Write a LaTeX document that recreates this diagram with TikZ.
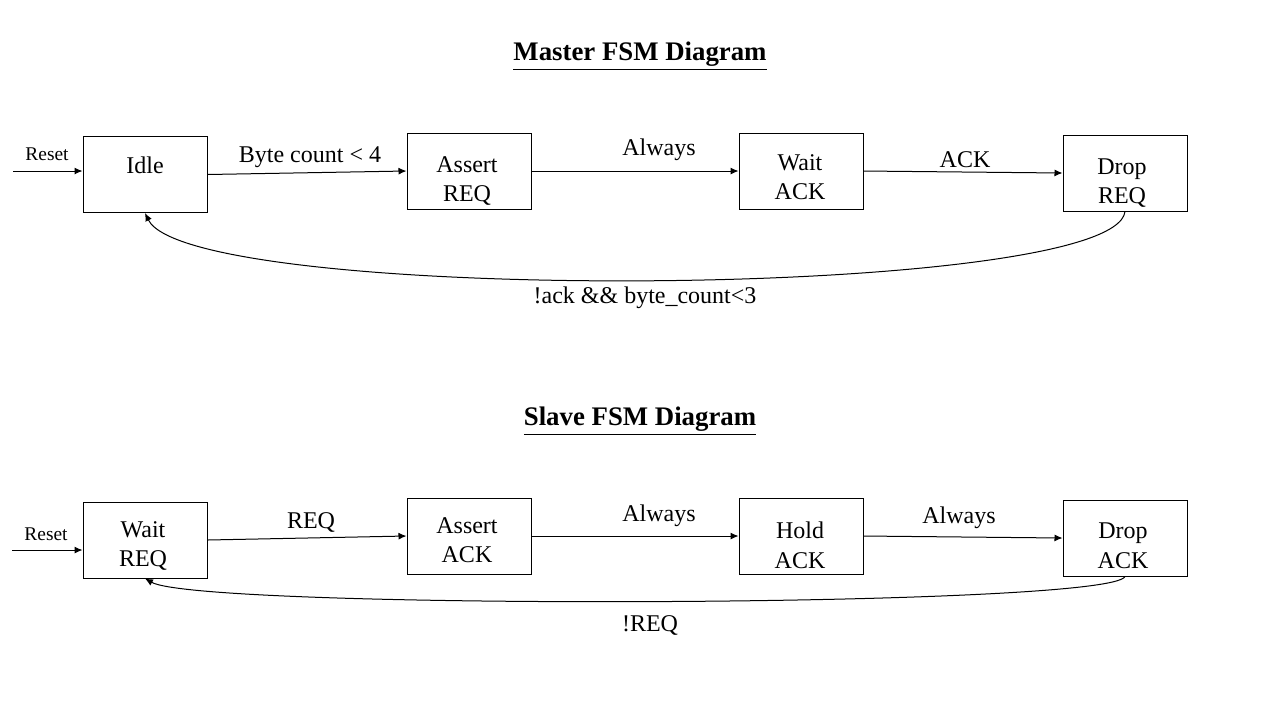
\documentclass[tikz,border=0pt]{standalone}
\usepackage{fontspec}
\setmainfont{Liberation Serif}
\usetikzlibrary{arrows.meta}
\begin{document}
\begin{tikzpicture}[x=0.5pt,y=-0.5pt,
  box/.style={draw, line width=0.5pt, minimum width=62pt, minimum height=38pt, inner sep=0pt},
  boxtext/.style={align=center, inner sep=0pt, font=\fontsize{12}{14.8}\selectfont},
  lbl/.style={inner sep=0pt, font=\fontsize{12}{14.5}\selectfont},
  rlbl/.style={inner sep=0pt, font=\fontsize{9.7}{11}\selectfont},
  ttl/.style={inner sep=0pt, font=\fontsize{13.4}{16}\selectfont\bfseries},
  arr/.style={draw, line width=0.5pt, -{Latex[length=4pt,width=3.5pt]}}
]
\useasboundingbox[fill=white] (0,0) rectangle (1280,720);

% ---------- Master ----------
\node[ttl] (t1) at (640,56) {\underline{Master FSM Diagram}};

\node[box] (idle) at (145,174.5) {};
\node[box] (areq) at (469,171) {};
\node[box] (wack) at (801,171) {};
\node[box] (dreq) at (1125,173) {};

\node[boxtext] (idlet) at (145,165) {Idle};
\node[boxtext] (areqt) at (467,181) {Assert\\REQ};
\node[boxtext] (wackt) at (800,177) {Wait\\ACK};
\node[boxtext] (dreqt) at (1122,183) {Drop\\REQ};

\coordinate (r1) at (13,171);
\draw[arr] (r1) -- (r1 -| idle.west);
\node[rlbl] (rl1) at (47,154) {Reset};

\draw[arr] (idle.east) -- (areq.west);
\draw[arr] (areq.east) -- (wack.west);
\draw[arr] (wack.east) -- (dreq.west);
\node[lbl] (l1) at (310,157) {Byte count < 4};
\node[lbl] (l2) at (659,150) {Always};
\node[lbl] (l3) at (965,160) {ACK};

\draw[arr] (dreq.south) .. controls (1115,300) and (190,305) .. (idle.south);
\node[lbl] (l4) at (645,298) {!ack \&\& byte\_count<3};

% ---------- Slave ----------
\node[ttl] (t2) at (640,421) {\underline{Slave FSM Diagram}};

\node[box] (wreq) at (145,540) {};
\node[box] (aack) at (469,536) {};
\node[box] (hack) at (801,536) {};
\node[box] (dack) at (1125,538) {};

\node[boxtext] (wreqt) at (143,546) {Wait\\REQ};
\node[boxtext] (aackt) at (467,540) {Assert\\ACK};
\node[boxtext] (hackt) at (800,545) {Hold\\ACK};
\node[boxtext] (dackt) at (1123,546) {Drop\\ACK};

\coordinate (r2) at (12,550);
\draw[arr] (r2) -- (r2 -| wreq.west);
\node[rlbl] (rl2) at (46,534) {Reset};

\draw[arr] (wreq.east) -- (aack.west);
\draw[arr] (aack.east) -- (hack.west);
\draw[arr] (hack.east) -- (dack.west);
\node[lbl] (l5) at (311,522) {REQ};
\node[lbl] (l6) at (659,516) {Always};
\node[lbl] (l7) at (959,518) {Always};

\draw[arr] (dack.south) .. controls (1110,608) and (200,610) .. (wreq.south);
\node[lbl] (l8) at (650,625) {!REQ};
\end{tikzpicture}
\end{document}
